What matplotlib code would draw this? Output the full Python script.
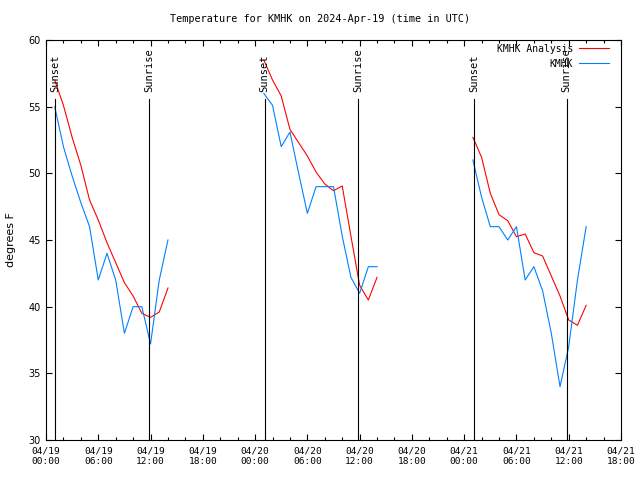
import matplotlib
matplotlib.use("Agg")
import matplotlib.pyplot as plt
from matplotlib.ticker import MultipleLocator, FixedLocator

# ---- data (hours since 2024-04-19 00:00 UTC) ----
obs_hours_1 = [1, 2, 3, 4, 5, 6, 7, 8, 9, 10, 11, 12, 13, 14]
obs_hours_2 = [25, 26, 27, 28, 29, 30, 31, 32, 33, 34, 35, 36, 37, 38]
obs_hours_3 = [49, 50, 51, 52, 53, 54, 55, 56, 57, 58, 59, 60, 61, 62]

kmhk_1 = [55.0, 52.0, 49.8, 47.8, 46.0, 42.0, 44.0, 42.0, 38.0, 40.0, 40.0, 37.2, 42.0, 45.0]
kmhk_2 = [56.0, 55.1, 52.0, 53.1, 50.0, 47.0, 49.0, 49.0, 49.0, 45.3, 42.2, 41.0, 43.0, 43.0]
kmhk_3 = [51.0, 48.2, 46.0, 46.0, 45.0, 46.0, 42.0, 43.0, 41.2, 38.0, 34.0, 37.0, 42.0, 46.0]

anal_1 = [57.0, 55.1, 52.7, 50.6, 48.0, 46.5, 44.8, 43.3, 41.8, 40.8, 39.5, 39.2, 39.6, 41.4]
anal_2 = [58.5, 57.0, 55.8, 53.3, 52.3, 51.3, 50.1, 49.2, 48.7, 49.05, 45.3, 41.6, 40.5, 42.2]
anal_3 = [52.7, 51.2, 48.5, 46.9, 46.45, 45.25, 45.45, 44.05, 43.8, 42.3, 40.8, 39.0, 38.6, 40.1]

sunset_hours = [1.05, 25.1, 49.1]
sunrise_hours = [11.8, 35.85, 59.75]

tick_hours = [0, 6, 12, 18, 24, 30, 36, 42, 48, 54, 60, 66]
tick_labels = ["04/19\n00:00", "04/19\n06:00", "04/19\n12:00", "04/19\n18:00",
               "04/20\n00:00", "04/20\n06:00", "04/20\n12:00", "04/20\n18:00",
               "04/21\n00:00", "04/21\n06:00", "04/21\n12:00", "04/21\n18:00"]

RED = "#ff0000"
BLUE = "#0080ff"
MONO = "DejaVu Sans Mono"

fig = plt.figure(figsize=(6.4, 4.8), dpi=100)
ax = fig.add_axes([46 / 640, 40 / 480, (621 - 46) / 640, 400 / 480])

for i, (h, a, k) in enumerate([(obs_hours_1, anal_1, kmhk_1),
                                (obs_hours_2, anal_2, kmhk_2),
                                (obs_hours_3, anal_3, kmhk_3)]):
    ax.plot(h, a, color=RED, lw=0.8, label="KMHK Analysis" if i == 0 else None)
    ax.plot(h, k, color=BLUE, lw=0.8, label="KMHK" if i == 0 else None)

line_top = 55.6
for t in sunset_hours:
    ax.plot([t, t], [30, line_top], color="black", lw=0.8)
    ax.text(t, 56.1, "Sunset", rotation=90, ha="center", va="bottom",
            family=MONO, fontsize=7.5)
for t in sunrise_hours:
    ax.plot([t, t], [30, line_top], color="black", lw=0.8)
    ax.text(t, 56.1, "Sunrise", rotation=90, ha="center", va="bottom",
            family=MONO, fontsize=7.5)

ax.set_xlim(0, 66)
ax.set_ylim(30, 60)
ax.xaxis.set_major_locator(FixedLocator(tick_hours))
ax.set_xticklabels(tick_labels, family=MONO, fontsize=6.8)
ax.xaxis.set_minor_locator(MultipleLocator(2))
ax.yaxis.set_major_locator(MultipleLocator(5))
for lab in ax.get_yticklabels():
    lab.set_fontsize(7)
ax.tick_params(axis="both", which="major", direction="in", length=4, width=0.8,
               top=True, right=True, pad=4)
ax.tick_params(axis="both", which="minor", direction="in", length=2, width=0.8,
               top=True, right=True)
ax.tick_params(axis="y", which="minor", left=False, right=False)
ax.tick_params(axis="x", pad=5)
for s in ax.spines.values():
    s.set_linewidth(0.8)

fig.text(11 / 640, 0.5, "degrees F", rotation=90, ha="center", va="center", fontsize=8)
fig.text(0.5, 1 - 19 / 480, "Temperature for KMHK on 2024-Apr-19 (time in UTC)",
         family=MONO, fontsize=7.3, ha="center", va="center")

leg = ax.legend(loc="upper right", frameon=False, prop={"family": MONO, "size": 7},
                markerfirst=False, handlelength=3.1, handletextpad=0.6,
                borderaxespad=0.2, labelspacing=0.5,
                bbox_to_anchor=(1 - 6 / 575, 1 + 2 / 400))

fig.savefig("out.png", dpi=100)
